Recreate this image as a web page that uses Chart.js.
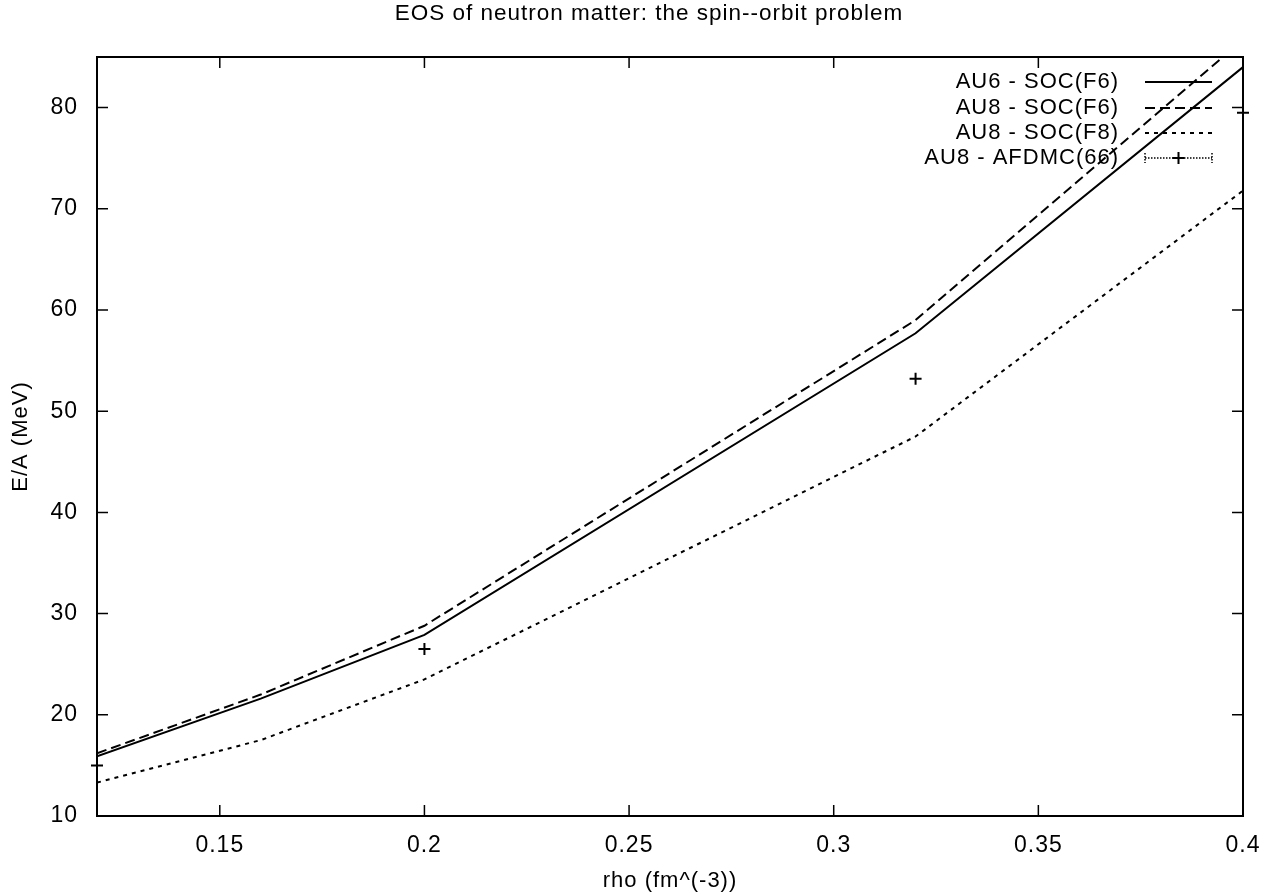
<!DOCTYPE html>
<html>
<head>
<meta charset="utf-8">
<script src="https://cdn.jsdelivr.net/npm/chart.js@4.4.1/dist/chart.umd.min.js"></script>
<style>
  html, body { margin: 0; padding: 0; background: #fff; }
  #wrap { width: 1276px; height: 894px; }
</style>
</head>
<body>
<div id="wrap"><canvas id="eos"></canvas></div>
<script>
// density points (fm^-3) and E/A in MeV
const rho = [0.12, 0.16, 0.2, 0.32, 0.4];
const au6SocF6 = [15.9, 21.6, 27.9, 57.7, 84.0];
const au8SocF6 = [16.2, 22.0, 28.8, 59.0, 86.7];
const au8SocF8 = [13.3, 17.5, 23.5, 47.5, 71.8];
const afdmcRho = [0.12, 0.2, 0.32, 0.4];
const au8Afdmc = [15.0, 26.5, 53.2, 79.5];

const xTicks = [0.15, 0.2, 0.25, 0.3, 0.35, 0.4];
const yTicks = [10, 20, 30, 40, 50, 60, 70, 80];

const TITLE = "EOS of neutron matter: the spin--orbit problem";
const FONT = "'Liberation Sans', Arial, sans-serif";

function pts(xs, ys) {
  return xs.map((x, i) => ({ x: x, y: ys[i] }));
}

const series = [
  { label: "AU6 - SOC(F6)", data: pts(rho, au6SocF6), dash: [], width: 2 },
  { label: "AU8 - SOC(F6)", data: pts(rho, au8SocF6), dash: [10, 5], width: 2 },
  { label: "AU8 - SOC(F8)", data: pts(rho, au8SocF8), dash: [4, 5], width: 2 }
];

// the scanned lettering is a bit wider than Liberation Sans
const spacingPlugin = {
  id: "spacing",
  beforeDraw(chart) { chart.ctx.letterSpacing = "1px"; }
};

// title sits a little right of the canvas centre in the original
const titlePlugin = {
  id: "topTitle",
  afterDraw(chart) {
    const ctx = chart.ctx;
    ctx.save();
    ctx.font = "22.5px " + FONT;
    ctx.fillStyle = "#000";
    ctx.textAlign = "center";
    ctx.textBaseline = "middle";
    ctx.fillText(TITLE, 649, 14);
    ctx.restore();
  }
};

// gnuplot-ish frame with inward ticks on all four sides
const framePlugin = {
  id: "frame",
  afterDatasetsDraw(chart) {
    const { ctx, chartArea: a, scales } = chart;
    ctx.save();
    ctx.strokeStyle = "#000";
    ctx.lineWidth = 2;
    ctx.strokeRect(a.left, a.top, a.right - a.left, a.bottom - a.top);
    ctx.lineWidth = 1.5;
    const len = 11;
    ctx.beginPath();
    xTicks.forEach(v => {
      const px = scales.x.getPixelForValue(v);
      ctx.moveTo(px, a.bottom); ctx.lineTo(px, a.bottom - len);
      ctx.moveTo(px, a.top); ctx.lineTo(px, a.top + len);
    });
    yTicks.forEach(v => {
      const py = scales.y.getPixelForValue(v);
      ctx.moveTo(a.left, py); ctx.lineTo(a.left + len, py);
      ctx.moveTo(a.right, py); ctx.lineTo(a.right - len, py);
    });
    ctx.stroke();
    ctx.restore();
  }
};

// key in the top right corner, text right aligned, sample on the right
const keyPlugin = {
  id: "key",
  afterDraw(chart) {
    const ctx = chart.ctx;
    const textRight = 1119, x0 = 1145, x1 = 1212;
    const rows = [82, 108, 133, 158];
    ctx.save();
    ctx.font = "22px " + FONT;
    ctx.fillStyle = "#000";
    ctx.textAlign = "right";
    ctx.textBaseline = "middle";
    const labels = series.map(s => s.label).concat(["AU8 - AFDMC(66)"]);
    labels.forEach((t, i) => ctx.fillText(t, textRight, rows[i]));
    ctx.strokeStyle = "#000";
    series.forEach((s, i) => {
      ctx.lineWidth = s.width;
      ctx.setLineDash(s.dash);
      ctx.beginPath();
      ctx.moveTo(x0, rows[i]); ctx.lineTo(x1, rows[i]);
      ctx.stroke();
    });
    // error-bar sample
    const y = rows[3];
    ctx.lineWidth = 1.5;
    ctx.setLineDash([1.5, 1.5]);
    ctx.beginPath();
    ctx.moveTo(x0, y); ctx.lineTo(x1, y);
    ctx.moveTo(x0, y - 5); ctx.lineTo(x0, y + 5);
    ctx.moveTo(x1, y - 5); ctx.lineTo(x1, y + 5);
    ctx.stroke();
    ctx.setLineDash([]);
    ctx.lineWidth = 2;
    const xm = (x0 + x1) / 2;
    ctx.beginPath();
    ctx.moveTo(xm - 6, y); ctx.lineTo(xm + 6, y);
    ctx.moveTo(xm, y - 6); ctx.lineTo(xm, y + 6);
    ctx.stroke();
    ctx.restore();
  }
};

const datasets = series.map(s => ({
  label: s.label,
  data: s.data,
  showLine: true,
  borderColor: "#000",
  borderWidth: s.width,
  borderDash: s.dash,
  pointRadius: 0,
  fill: false,
  tension: 0
}));
datasets.push({
  label: "AU8 - AFDMC(66)",
  data: pts(afdmcRho, au8Afdmc),
  showLine: false,
  clip: false,
  pointStyle: "cross",
  pointRadius: 6,
  borderColor: "#000",
  backgroundColor: "#000",
  pointBorderWidth: 2
});

new Chart(document.getElementById("eos"), {
  type: "scatter",
  data: { datasets: datasets },
  options: {
    responsive: true,
    maintainAspectRatio: false,
    animation: false,
    layout: { padding: { left: 8, right: 33, top: 57, bottom: 0 } },
    plugins: {
      legend: { display: false },
      tooltip: { enabled: false },
      title: { display: false }
    },
    scales: {
      x: {
        type: "linear",
        min: 0.12,
        max: 0.4,
        afterBuildTicks: s => { s.ticks = xTicks.map(v => ({ value: v })); },
        afterFit: s => { s.height = 78; },
        grid: { display: false, drawTicks: false },
        border: { display: false },
        ticks: {
          color: "#000",
          font: { family: FONT, size: 23 },
          padding: 16,
          maxRotation: 0,
          callback: v => String(v)
        },
        title: {
          display: true,
          text: "rho (fm^(-3))",
          color: "#000",
          font: { family: FONT, size: 22 },
          padding: { top: 0, bottom: 0 }
        }
      },
      y: {
        type: "linear",
        min: 10,
        max: 85,
        afterBuildTicks: s => { s.ticks = yTicks.map(v => ({ value: v })); },
        afterFit: s => { s.width = 89; },
        grid: { display: false, drawTicks: false },
        border: { display: false },
        ticks: {
          color: "#000",
          font: { family: FONT, size: 23 },
          padding: 19
        },
        title: {
          display: true,
          text: "E/A (MeV)",
          color: "#000",
          font: { family: FONT, size: 22 },
          padding: { top: 0, bottom: 0 }
        }
      }
    }
  },
  plugins: [spacingPlugin, framePlugin, keyPlugin, titlePlugin]
});
</script>
</body>
</html>
